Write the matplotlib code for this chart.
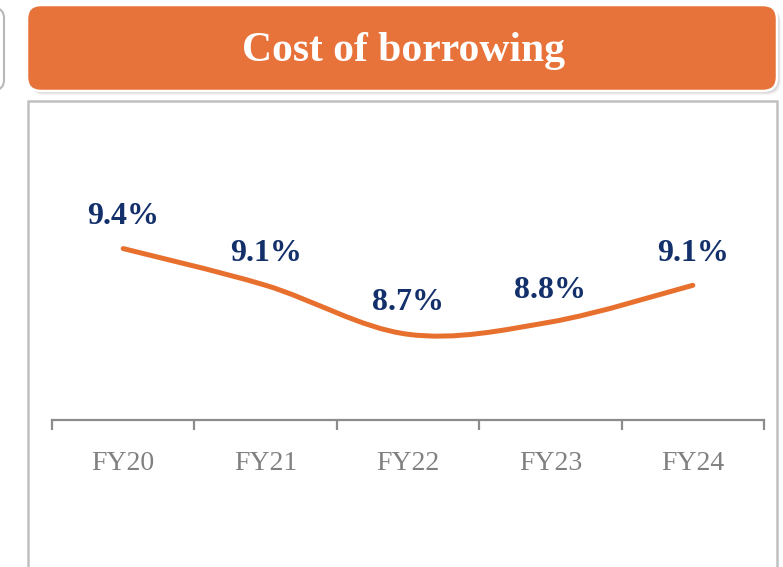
import numpy as np
import matplotlib.pyplot as plt
from matplotlib.patches import FancyBboxPatch, Rectangle, PathPatch
from matplotlib.path import Path

years = ['FY20', 'FY21', 'FY22', 'FY23', 'FY24']
cost = [9.4, 9.1, 8.7, 8.8, 9.1]
labels = ['9.4%', '9.1%', '8.7%', '8.8%', '9.1%']

ORANGE = '#E8733A'
LINE = '#E8702F'
NAVY = '#13306B'
GREY = '#808080'
SERIF = ['Liberation Serif', 'DejaVu Serif']

W, H = 783, 567
fig = plt.figure(figsize=(W / 100, H / 100), dpi=100)

# background layer in pixel coordinates
bg = fig.add_axes([0, 0, 1, 1])
bg.set_xlim(0, W)
bg.set_ylim(H, 0)
bg.axis('off')

# edge of the neighbouring panel on the left
bg.add_patch(FancyBboxPatch((-60, 8), 64, 82, boxstyle='round,pad=0,rounding_size=10',
                            fc='white', ec='#B8B8B8', lw=1.5))

# header with soft shadow
for off, a in [(4, 0.10), (3, 0.15), (2, 0.2)]:
    bg.add_patch(FancyBboxPatch((27 + off, 5 + off), 750, 86,
                                boxstyle='round,pad=0,rounding_size=14',
                                fc='#999999', ec='none', alpha=a))
bg.add_patch(FancyBboxPatch((27, 5), 750, 86, boxstyle='round,pad=0,rounding_size=14',
                            fc=ORANGE, ec='white', lw=1.8))
bg.text(403, 61, 'Cost of borrowing', color='white', fontsize=30, fontweight='bold',
        family=SERIF, ha='center', va='baseline')

# content frame
bg.add_patch(Rectangle((28, 101), 749, 500, fc='white', ec='#C0C0C0', lw=1.8))

# chart
ax = fig.add_axes([52 / W, 1 - 420 / H, (764 - 52) / W, 300 / H])
ax.set_xlim(-0.5, 4.5)
ax.set_ylim(8.0, 10.45)
ax.patch.set_alpha(0)
for s in ['top', 'right', 'left']:
    ax.spines[s].set_visible(False)
ax.spines['bottom'].set_color('#8C8C8C')
ax.spines['bottom'].set_linewidth(1.6)
ax.set_yticks([])
ax.set_xticks(np.arange(-0.5, 5, 1))
ax.set_xticklabels([])
ax.tick_params(axis='x', which='major', length=7, width=1.6, color='#8C8C8C', direction='out')
x = np.arange(len(years))
ax.set_xticks(x, minor=True)
ax.set_xticklabels(years, minor=True, color=GREY, fontsize=20, family=SERIF)
ax.tick_params(axis='x', which='minor', length=0, pad=22)

# smoothed line (Excel-style bezier through the points)
pts = np.column_stack([x, cost]).astype(float)
ext = np.vstack([pts[0], pts, pts[-1]])
verts = [tuple(pts[0])]
codes = [Path.MOVETO]
for i in range(len(pts) - 1):
    p0, p1, p2, p3 = ext[i], ext[i + 1], ext[i + 2], ext[i + 3]
    c1 = p1 + (p2 - p0) / 6
    c2 = p2 - (p3 - p1) / 6
    verts += [tuple(c1), tuple(c2), tuple(p2)]
    codes += [Path.CURVE4] * 3
ax.add_patch(PathPatch(Path(verts, codes), fill=False, ec=LINE, lw=3.6, capstyle='round'))

for xi, yi, lab in zip(x, cost, labels):
    ax.annotate(lab, (xi, yi), xytext=(0, 23), textcoords='offset points', ha='center',
                va='center', color=NAVY, fontsize=23, fontweight='bold', family=SERIF)

fig.savefig('out.png', dpi=100)
